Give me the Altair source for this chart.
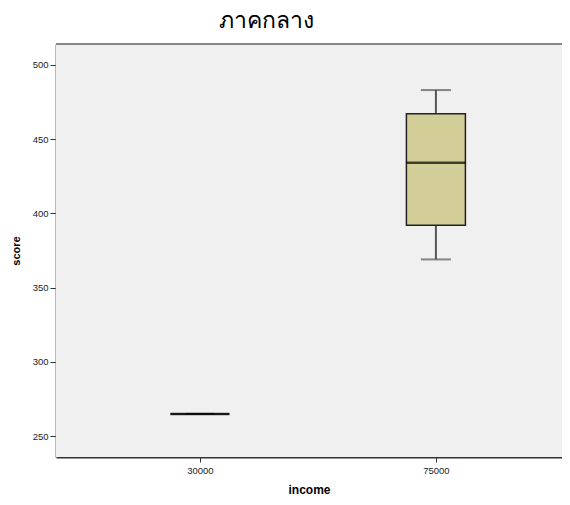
import altair as alt
import pandas as pd

incomes = ["30000", "75000"]
mins = [265, 369]
q1s = [265, 392]
medians = [265, 434]
q3s = [265, 467]
maxs = [265, 483]
y_ticks = [250, 300, 350, 400, 450, 500]

df = pd.DataFrame({"income": incomes, "min": mins, "q1": q1s,
                   "median": medians, "q3": q3s, "max": maxs})

W = 506
H = 413

xscale = alt.Scale(type="point", domain=incomes, padding=0.572, align=0.533)
yscale = alt.Scale(domain=[236, 514], nice=False, zero=False)

xaxis = alt.Axis(title="income", titleFontWeight="bold", titleFontSize=12,
                 titleColor="#000", titleFont="Liberation Sans", titlePadding=10,
                 labelFont="Liberation Sans", labelFontSize=9.5, labelColor="#222",
                 labelAngle=0, labelPadding=3, tickSize=5, tickColor="#333",
                 domainColor="#333", domainWidth=2, grid=False)
yaxis = alt.Axis(title="score", titleFontWeight="bold", titleFontSize=11,
                 titleColor="#000", titleFont="Liberation Sans", titlePadding=11,
                 labelFont="Liberation Sans", labelFontSize=9.5, labelColor="#222",
                 values=y_ticks, tickSize=6, tickColor="#333", labelPadding=2,
                 domainColor="#777", domainWidth=2, grid=False)

base = alt.Chart(df)

bg = alt.Chart(df).mark_rect(color="#f0f0f0").encode(
    x=alt.value(0), x2=alt.value(W), y=alt.value(0), y2=alt.value(H))
whisker = base.mark_rule(color="#555", strokeWidth=2).encode(
    x=alt.X("income:N", scale=xscale, axis=xaxis),
    y=alt.Y("min:Q", scale=yscale, axis=yaxis),
    y2="max:Q",
)
cap_lo = base.mark_tick(color="#555", size=30, thickness=2, orient="horizontal").encode(
    x=alt.X("income:N", scale=xscale), y=alt.Y("min:Q", scale=yscale))
cap_hi = base.mark_tick(color="#555", size=30, thickness=2, orient="horizontal").encode(
    x=alt.X("income:N", scale=xscale), y=alt.Y("max:Q", scale=yscale))
box = base.mark_bar(size=59, color="#d3ce97", stroke="#222", strokeWidth=1.5).encode(
    x=alt.X("income:N", scale=xscale), y=alt.Y("q1:Q", scale=yscale), y2="q3:Q")
med = base.mark_tick(color="#000", size=59, thickness=2.5, orient="horizontal").encode(
    x=alt.X("income:N", scale=xscale), y=alt.Y("median:Q", scale=yscale))
top_border = alt.Chart(df).mark_rule(color="#888", strokeWidth=2).encode(
    x=alt.value(0), x2=alt.value(W), y=alt.value(0))

chart = alt.layer(bg, whisker, cap_lo, cap_hi, box, med, top_border).properties(
    width=W, height=H,
    autosize=alt.AutoSizeParams(type="none"),
    padding={"left": 48, "top": 36, "right": 0, "bottom": 40},
    title=alt.TitleParams("ภาคกลาง", fontSize=23, fontWeight="normal",
                          font="Noto Sans", color="#000", anchor="middle",
                          dx=-43, offset=10),
).configure_view(stroke=None).configure(background="white")

chart.save("out.html", embed_options={"renderer": "svg", "actions": False})
